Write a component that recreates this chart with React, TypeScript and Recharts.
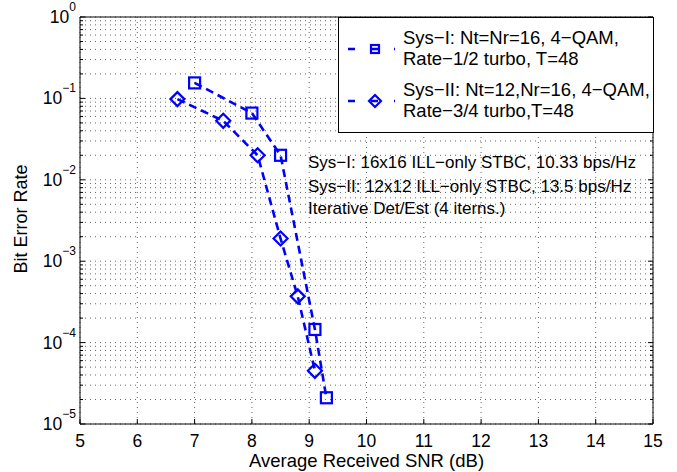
import React from "react";
import { LineChart, Line, XAxis, YAxis, CartesianGrid, Legend } from "recharts";

// Sys-I (squares)
const snrSys1 = [7, 8, 8.5, 9.1, 9.3];
const berSys1 = [0.155, 0.066, 0.02, 1.45e-4, 2.1e-5];
// Sys-II (diamonds)
const snrSys2 = [6.7, 7.5, 8.1, 8.5, 8.8, 9.1];
const berSys2 = [0.098, 0.053, 0.02, 0.0019, 3.7e-4, 4.5e-5];

const nameSys1 = "Sys−I: Nt=Nr=16, 4−QAM,\nRate−1/2 turbo, T=48";
const nameSys2 = "Sys−II: Nt=12,Nr=16, 4−QAM,\nRate−3/4 turbo,T=48";

const notes = [
  "Sys−I: 16x16 ILL−only STBC, 10.33 bps/Hz",
  "Sys−II: 12x12 ILL−only STBC, 13.5 bps/Hz",
  "Iterative Det/Est (4 iterns.)",
];

const xTicks = [5, 6, 7, 8, 9, 10, 11, 12, 13, 14, 15];
const decades = [-5, -4, -3, -2, -1];
const mantissas = [1, 2, 3, 4, 5, 6, 7, 8, 9];
// log axis ticks: every m*10^k plus the top 10^0
const yTicks = [...decades.flatMap((k) => mantissas.map((m) => m * Math.pow(10, k))), 1];

const data1 = snrSys1.map((s, i) => ({ snr: s, ber: berSys1[i] }));
const data2 = snrSys2.map((s, i) => ({ snr: s, ber: berSys2[i] }));

const BLUE = "#0000ff";
const FONT = "'Liberation Sans', Arial, Helvetica, sans-serif";

const isMajor = (v: number) => Math.abs(Math.log10(v) - Math.round(Math.log10(v))) < 1e-6;

const LeftTick = (props: any) => {
  const { x, y, payload } = props;
  const v = payload.value;
  const major = isMajor(v);
  const exp = Math.round(Math.log10(v));
  return (
    <g>
      <line x1={x} x2={x + (major ? 5 : 3)} y1={y} y2={y} stroke="#000" />
      {major && (
        <text x={x - 4} y={y + 6} textAnchor="end" fontFamily={FONT} fontSize={17.5} fill="#000">
          10
          <tspan dy={-12} fontSize={12}>
            {exp < 0 ? "−" + Math.abs(exp) : String(exp)}
          </tspan>
        </text>
      )}
    </g>
  );
};

const RightTick = (props: any) => {
  const { x, y, payload } = props;
  const major = isMajor(payload.value);
  return <line x1={x} x2={x - (major ? 5 : 3)} y1={y} y2={y} stroke="#000" />;
};

const BottomTick = (props: any) => {
  const { x, y, payload } = props;
  return (
    <g>
      <line x1={x} x2={x} y1={y} y2={y - 5} stroke="#000" />
      <text x={x} y={y + 23} textAnchor="middle" fontFamily={FONT} fontSize={17.5} fill="#000">
        {payload.value}
      </text>
    </g>
  );
};

const TopTick = (props: any) => {
  const { x, y } = props;
  return <line x1={x} x2={x} y1={y} y2={y + 5} stroke="#000" />;
};

const Square = (props: any) => {
  const { cx, cy } = props;
  if (cx == null || cy == null) return <g />;
  return <rect x={cx - 5.5} y={cy - 5.5} width={11} height={11} fill="none" stroke={BLUE} strokeWidth={2.2} />;
};

const Diamond = (props: any) => {
  const { cx, cy } = props;
  if (cx == null || cy == null) return <g />;
  const r = 7;
  return (
    <polygon
      points={`${cx},${cy - r} ${cx + r},${cy} ${cx},${cy + r} ${cx - r},${cy}`}
      fill="none"
      stroke={BLUE}
      strokeWidth={2.2}
    />
  );
};

const renderLegend = (props: any) => {
  const { payload } = props;
  return (
    <svg width={316} height={116} style={{ display: "block" }}>
      <rect x={0.5} y={0.5} width={315} height={115} fill="#fff" stroke="#000" />
      {(payload || []).map((entry: any, i: number) => {
        const lines = String(entry.value).split("\n");
        const cy = 32 + 52 * i;
        const diamond = entry.value === nameSys2;
        return (
          <g key={i}>
            <line x1={10} x2={57} y1={cy} y2={cy} stroke={BLUE} strokeWidth={2.5} strokeDasharray="7 16" />
            {diamond ? (
              <polygon points={`37,${cy - 6} 43,${cy} 37,${cy + 6} 31,${cy}`} fill="none" stroke={BLUE} strokeWidth={2.2} />
            ) : (
              <rect x={33} y={cy - 4} width={8} height={8} fill="none" stroke={BLUE} strokeWidth={2.2} />
            )}
            {lines.map((t, j) => (
              <text key={j} x={65} y={cy - 5 + 21 * j} fontFamily={FONT} fontSize={18.5} fill="#000">
                {t}
              </text>
            ))}
          </g>
        );
      })}
    </svg>
  );
};

export default function App() {
  return (
    <div style={{ position: "absolute", left: 0, top: 0, width: 677, height: 472, background: "#fff" }}>
      <LineChart width={677} height={472} margin={{ top: 0, right: 0, bottom: 0, left: 0 }}>
        <CartesianGrid stroke="#555" strokeDasharray="1 4" strokeWidth={0.9} />
        <XAxis
          dataKey="snr"
          type="number"
          domain={[5, 15]}
          ticks={xTicks}
          height={48}
          tickSize={0}
          tickMargin={0}
          tick={<BottomTick />}
          axisLine={{ stroke: "#000" }}
          tickLine={false}
          allowDuplicatedCategory={false}
          interval={0}
        />
        <XAxis
          xAxisId="top"
          orientation="top"
          type="number"
          domain={[5, 15]}
          ticks={xTicks}
          height={17}
          tickSize={0}
          tickMargin={0}
          tick={<TopTick />}
          axisLine={{ stroke: "#000" }}
          tickLine={false}
          interval={0}
        />
        <YAxis
          dataKey="ber"
          type="number"
          scale="log"
          domain={[1e-5, 1]}
          allowDataOverflow
          ticks={yTicks}
          width={80}
          tickSize={0}
          tickMargin={0}
          tick={<LeftTick />}
          axisLine={{ stroke: "#000" }}
          tickLine={false}
          interval={0}
        />
        <YAxis
          yAxisId="right"
          orientation="right"
          type="number"
          scale="log"
          domain={[1e-5, 1]}
          allowDataOverflow
          ticks={yTicks}
          width={24}
          tickSize={0}
          tickMargin={0}
          tick={<RightTick />}
          axisLine={{ stroke: "#000" }}
          tickLine={false}
          interval={0}
        />
        <Legend
          layout="vertical"
          align="center"
          verticalAlign="middle"
          content={renderLegend}
          wrapperStyle={{ position: "absolute", left: 338, top: 17, width: 316, height: 116 }}
        />
        <Line
          data={data1}
          dataKey="ber"
          name={nameSys1}
          stroke={BLUE}
          strokeWidth={2.6}
          strokeDasharray="8 5"
          dot={<Square />}
          activeDot={false}
          isAnimationActive={false}
        />
        <Line
          data={data2}
          dataKey="ber"
          name={nameSys2}
          stroke={BLUE}
          strokeWidth={2.6}
          strokeDasharray="8 5"
          dot={<Diamond />}
          activeDot={false}
          isAnimationActive={false}
        />
      </LineChart>
      <svg width={677} height={472} style={{ position: "absolute", left: 0, top: 0, pointerEvents: "none" }}>
        {notes.map((t, i) => (
          <text key={i} x={308} y={[168, 192, 214][i]} fontFamily={FONT} fontSize={17} fill="#000">
            {t}
          </text>
        ))}
        <text x={366.5} y={467} textAnchor="middle" fontFamily={FONT} fontSize={18.5} fill="#000">
          Average Received SNR (dB)
        </text>
        <text x={27} y={219} textAnchor="middle" transform="rotate(-90, 27, 219)" fontFamily={FONT} fontSize={18} fill="#000">
          Bit Error Rate
        </text>
      </svg>
    </div>
  );
}
